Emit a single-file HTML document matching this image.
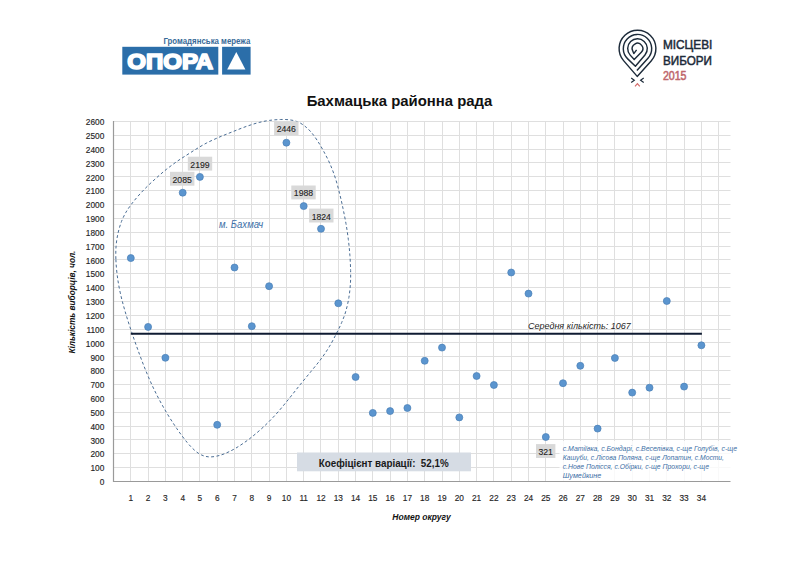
<!DOCTYPE html>
<html><head><meta charset="utf-8"><style>
html,body{margin:0;padding:0;background:#fff;}
svg{display:block;font-family:"Liberation Sans",sans-serif;}
.yl{font-size:8.3px;fill:#262626;text-anchor:end;stroke:#262626;stroke-width:0.15px;}
.xl{font-size:8.3px;fill:#262626;text-anchor:middle;stroke:#262626;stroke-width:0.15px;}
.dl{font-size:8.7px;fill:#1e1e1e;text-anchor:middle;stroke:#1e1e1e;stroke-width:0.12px;}
.town{font-size:10.2px;fill:#3d70a8;font-style:italic;}
.coef{font-size:10.4px;fill:#1a1a1a;font-weight:bold;white-space:pre;}
.note{font-size:7.5px;fill:#3d6fa6;font-style:italic;}
.mean{font-size:9px;fill:#262626;font-style:italic;}
.title{font-size:14.9px;fill:#111;font-weight:bold;text-anchor:middle;}
.xt{font-size:8.5px;fill:#111;font-weight:bold;font-style:italic;text-anchor:middle;}
.yt{font-size:8.5px;fill:#111;font-weight:bold;font-style:italic;}
.gm{font-size:8.5px;fill:#386a98;font-weight:bold;}
.opora{font-size:22.2px;fill:#fff;font-weight:bold;stroke:#fff;stroke-width:1.7px;stroke-linejoin:round;}
.mv{font-size:12.3px;fill:#1d2b3a;stroke:#1d2b3a;stroke-width:0.5px;}
.mv2{font-size:12px;fill:#c0676c;stroke:#c0676c;stroke-width:0.55px;}
</style></head>
<body><svg width="800" height="566" viewBox="0 0 800 566">
<path d="M113.5 467.5H730.5 M113.5 453.5H730.5 M113.5 439.5H730.5 M113.5 426.5H730.5 M113.5 412.5H730.5 M113.5 398.5H730.5 M113.5 384.5H730.5 M113.5 370.5H730.5 M113.5 356.5H730.5 M113.5 342.5H730.5 M113.5 329.5H730.5 M113.5 315.5H730.5 M113.5 301.5H730.5 M113.5 287.5H730.5 M113.5 273.5H730.5 M113.5 259.5H730.5 M113.5 246.5H730.5 M113.5 232.5H730.5 M113.5 218.5H730.5 M113.5 204.5H730.5 M113.5 190.5H730.5 M113.5 176.5H730.5 M113.5 162.5H730.5 M113.5 149.5H730.5 M113.5 135.5H730.5 M113.5 121.5H730.5 M130.5 121.4V481.4 M148.5 121.4V481.4 M165.5 121.4V481.4 M182.5 121.4V481.4 M199.5 121.4V481.4 M217.5 121.4V481.4 M234.5 121.4V481.4 M251.5 121.4V481.4 M269.5 121.4V481.4 M286.5 121.4V481.4 M303.5 121.4V481.4 M320.5 121.4V481.4 M338.5 121.4V481.4 M355.5 121.4V481.4 M372.5 121.4V481.4 M390.5 121.4V481.4 M407.5 121.4V481.4 M424.5 121.4V481.4 M442.5 121.4V481.4 M459.5 121.4V481.4 M476.5 121.4V481.4 M493.5 121.4V481.4 M511.5 121.4V481.4 M528.5 121.4V481.4 M545.5 121.4V481.4 M563.5 121.4V481.4 M580.5 121.4V481.4 M597.5 121.4V481.4 M614.5 121.4V481.4 M632.5 121.4V481.4 M649.5 121.4V481.4 M666.5 121.4V481.4 M684.5 121.4V481.4 M701.5 121.4V481.4 M718.5 121.4V481.4" stroke="#dfdfdf" stroke-width="1" fill="none"/>
<path d="M113.5 121V481.5H730.5" stroke="#9a9a9a" stroke-width="1.2" fill="none"/>
<text x="104.3" y="485.1" class="yl">0</text>
<text x="104.3" y="471.3" class="yl">100</text>
<text x="104.3" y="457.4" class="yl">200</text>
<text x="104.3" y="443.6" class="yl">300</text>
<text x="104.3" y="429.7" class="yl">400</text>
<text x="104.3" y="415.9" class="yl">500</text>
<text x="104.3" y="402.0" class="yl">600</text>
<text x="104.3" y="388.2" class="yl">700</text>
<text x="104.3" y="374.3" class="yl">800</text>
<text x="104.3" y="360.5" class="yl">900</text>
<text x="104.3" y="346.6" class="yl">1000</text>
<text x="104.3" y="332.8" class="yl">1100</text>
<text x="104.3" y="318.9" class="yl">1200</text>
<text x="104.3" y="305.1" class="yl">1300</text>
<text x="104.3" y="291.3" class="yl">1400</text>
<text x="104.3" y="277.4" class="yl">1500</text>
<text x="104.3" y="263.6" class="yl">1600</text>
<text x="104.3" y="249.7" class="yl">1700</text>
<text x="104.3" y="235.9" class="yl">1800</text>
<text x="104.3" y="222.0" class="yl">1900</text>
<text x="104.3" y="208.2" class="yl">2000</text>
<text x="104.3" y="194.3" class="yl">2100</text>
<text x="104.3" y="180.5" class="yl">2200</text>
<text x="104.3" y="166.6" class="yl">2300</text>
<text x="104.3" y="152.8" class="yl">2400</text>
<text x="104.3" y="138.9" class="yl">2500</text>
<text x="104.3" y="125.1" class="yl">2600</text>
<text x="130.8" y="500.8" class="xl">1</text>
<text x="148.1" y="500.8" class="xl">2</text>
<text x="165.4" y="500.8" class="xl">3</text>
<text x="182.7" y="500.8" class="xl">4</text>
<text x="199.9" y="500.8" class="xl">5</text>
<text x="217.2" y="500.8" class="xl">6</text>
<text x="234.5" y="500.8" class="xl">7</text>
<text x="251.8" y="500.8" class="xl">8</text>
<text x="269.1" y="500.8" class="xl">9</text>
<text x="286.4" y="500.8" class="xl">10</text>
<text x="303.7" y="500.8" class="xl">11</text>
<text x="321.0" y="500.8" class="xl">12</text>
<text x="338.3" y="500.8" class="xl">13</text>
<text x="355.6" y="500.8" class="xl">14</text>
<text x="372.8" y="500.8" class="xl">15</text>
<text x="390.1" y="500.8" class="xl">16</text>
<text x="407.4" y="500.8" class="xl">17</text>
<text x="424.7" y="500.8" class="xl">18</text>
<text x="442.0" y="500.8" class="xl">19</text>
<text x="459.3" y="500.8" class="xl">20</text>
<text x="476.6" y="500.8" class="xl">21</text>
<text x="493.9" y="500.8" class="xl">22</text>
<text x="511.2" y="500.8" class="xl">23</text>
<text x="528.5" y="500.8" class="xl">24</text>
<text x="545.8" y="500.8" class="xl">25</text>
<text x="563.0" y="500.8" class="xl">26</text>
<text x="580.3" y="500.8" class="xl">27</text>
<text x="597.6" y="500.8" class="xl">28</text>
<text x="614.9" y="500.8" class="xl">29</text>
<text x="632.2" y="500.8" class="xl">30</text>
<text x="649.5" y="500.8" class="xl">31</text>
<text x="666.8" y="500.8" class="xl">32</text>
<text x="684.1" y="500.8" class="xl">33</text>
<text x="701.4" y="500.8" class="xl">34</text>
<path d="M115.88 259.23 C115.7 254.3 115.8 249.8 116.12 245.43 C116.5 241.0 117.2 236.9 118.08 232.88 C119.0 228.9 120.2 225.0 121.45 221.57 C122.8 218.2 124.2 215.3 125.88 212.37 C127.6 209.5 129.4 206.9 131.55 204.05 C133.7 201.2 136.3 198.1 139.0 195.02 C141.7 192.0 144.8 188.8 147.82 185.85 C150.8 182.9 153.9 180.2 156.97 177.4 C160.1 174.6 163.2 171.9 166.5 169.27 C169.8 166.7 173.2 164.1 176.57 161.73 C179.9 159.4 183.2 157.3 186.5 155.22 C189.8 153.1 192.8 151.1 196.1 149.1 C199.4 147.1 202.8 145.0 206.2 143.22 C209.6 141.4 213.3 139.8 216.8 138.2 C220.3 136.6 223.9 135.3 227.4 133.83 C230.9 132.4 234.5 131.0 238.0 129.6 C241.5 128.2 245.1 126.8 248.6 125.65 C252.1 124.5 255.6 123.3 259.12 122.45 C262.6 121.6 266.1 120.8 269.73 120.35 C273.3 119.9 277.2 119.6 280.68 119.5 C284.2 119.4 287.7 119.5 290.62 119.97 C293.5 120.4 295.9 121.0 298.18 122.03 C300.5 123.0 302.4 124.3 304.52 125.9 C306.6 127.5 308.8 129.5 310.88 131.88 C313.0 134.3 315.1 137.2 317.23 140.43 C319.4 143.6 321.5 147.3 323.6 151.18 C325.7 155.1 328.0 159.3 329.98 163.9 C332.0 168.5 334.0 173.8 335.6 178.88 C337.2 183.9 338.5 189.2 339.73 194.12 C341.0 199.1 342.0 203.6 343.0 208.5 C344.0 213.4 345.1 218.4 345.98 223.62 C346.9 228.8 347.7 234.3 348.33 239.57 C349.0 244.9 349.5 250.3 349.9 255.5 C350.3 260.7 350.5 265.8 350.62 270.57 C350.7 275.3 350.7 279.6 350.38 284.1 C350.1 288.6 349.6 293.0 348.9 297.45 C348.2 301.9 347.1 306.6 345.95 310.75 C344.8 314.9 343.4 318.5 341.73 322.4 C340.1 326.3 338.2 330.0 336.15 334.07 C334.1 338.1 331.7 342.7 329.22 346.82 C326.7 351.0 324.0 355.0 321.0 359.03 C318.0 363.1 314.6 367.0 311.2 371.23 C307.8 375.4 304.1 379.8 300.48 384.3 C296.8 388.8 293.2 393.5 289.32 398.32 C285.4 403.1 281.4 408.2 277.1 413.0 C272.8 417.8 268.1 422.6 263.53 426.88 C258.9 431.2 254.0 435.3 249.38 438.87 C244.8 442.4 240.0 445.6 235.92 448.07 C231.8 450.5 228.0 452.3 224.6 453.68 C221.2 455.1 218.5 455.8 215.78 456.33 C213.1 456.9 210.7 457.0 208.38 456.82 C206.0 456.6 203.9 456.1 201.68 455.05 C199.5 454.1 197.6 452.9 195.2 450.82 C192.8 448.7 190.2 446.1 187.12 442.43 C184.1 438.7 180.4 433.8 176.88 428.7 C173.4 423.6 169.7 417.9 166.22 412.05 C162.8 406.2 159.3 400.0 156.18 393.7 C153.0 387.4 150.0 380.8 147.27 374.2 C144.5 367.6 142.1 361.3 139.53 354.4 C137.0 347.5 134.3 340.0 131.88 332.77 C129.4 325.5 126.9 317.7 124.95 310.88 C123.0 304.1 121.4 298.0 120.1 292.08 C118.8 286.1 117.9 280.6 117.2 275.12 C116.5 269.6 116.1 264.2 115.88 259.23Z" stroke="#4a6d94" stroke-width="1" stroke-dasharray="2.9 2.4" fill="none"/>
<path d="M130.8 333.8H701.9" stroke="#0f1b32" stroke-width="2.1"/>
<text x="528" y="329" class="mean">Середня кількість: 1067</text>
<circle cx="130.8" cy="258.1" r="3.5" fill="#5b95cf" stroke="#4a7fb6" stroke-width="0.7"/>
<circle cx="148.1" cy="326.9" r="3.5" fill="#5b95cf" stroke="#4a7fb6" stroke-width="0.7"/>
<circle cx="165.4" cy="357.8" r="3.5" fill="#5b95cf" stroke="#4a7fb6" stroke-width="0.7"/>
<circle cx="182.7" cy="192.7" r="3.5" fill="#5b95cf" stroke="#4a7fb6" stroke-width="0.7"/>
<circle cx="199.9" cy="176.9" r="3.5" fill="#5b95cf" stroke="#4a7fb6" stroke-width="0.7"/>
<circle cx="217.2" cy="424.8" r="3.5" fill="#5b95cf" stroke="#4a7fb6" stroke-width="0.7"/>
<circle cx="234.5" cy="267.5" r="3.5" fill="#5b95cf" stroke="#4a7fb6" stroke-width="0.7"/>
<circle cx="251.8" cy="326.2" r="3.5" fill="#5b95cf" stroke="#4a7fb6" stroke-width="0.7"/>
<circle cx="269.1" cy="286.2" r="3.5" fill="#5b95cf" stroke="#4a7fb6" stroke-width="0.7"/>
<circle cx="286.4" cy="142.7" r="3.5" fill="#5b95cf" stroke="#4a7fb6" stroke-width="0.7"/>
<circle cx="303.7" cy="206.1" r="3.5" fill="#5b95cf" stroke="#4a7fb6" stroke-width="0.7"/>
<circle cx="321.0" cy="228.8" r="3.5" fill="#5b95cf" stroke="#4a7fb6" stroke-width="0.7"/>
<circle cx="338.3" cy="303.3" r="3.5" fill="#5b95cf" stroke="#4a7fb6" stroke-width="0.7"/>
<circle cx="355.6" cy="377.0" r="3.5" fill="#5b95cf" stroke="#4a7fb6" stroke-width="0.7"/>
<circle cx="372.8" cy="412.9" r="3.5" fill="#5b95cf" stroke="#4a7fb6" stroke-width="0.7"/>
<circle cx="390.1" cy="411.1" r="3.5" fill="#5b95cf" stroke="#4a7fb6" stroke-width="0.7"/>
<circle cx="407.4" cy="408.0" r="3.5" fill="#5b95cf" stroke="#4a7fb6" stroke-width="0.7"/>
<circle cx="424.7" cy="360.8" r="3.5" fill="#5b95cf" stroke="#4a7fb6" stroke-width="0.7"/>
<circle cx="442.0" cy="347.6" r="3.5" fill="#5b95cf" stroke="#4a7fb6" stroke-width="0.7"/>
<circle cx="459.3" cy="417.4" r="3.5" fill="#5b95cf" stroke="#4a7fb6" stroke-width="0.7"/>
<circle cx="476.6" cy="376.0" r="3.5" fill="#5b95cf" stroke="#4a7fb6" stroke-width="0.7"/>
<circle cx="493.9" cy="385.0" r="3.5" fill="#5b95cf" stroke="#4a7fb6" stroke-width="0.7"/>
<circle cx="511.2" cy="272.5" r="3.5" fill="#5b95cf" stroke="#4a7fb6" stroke-width="0.7"/>
<circle cx="528.5" cy="293.6" r="3.5" fill="#5b95cf" stroke="#4a7fb6" stroke-width="0.7"/>
<circle cx="545.8" cy="437.0" r="3.5" fill="#5b95cf" stroke="#4a7fb6" stroke-width="0.7"/>
<circle cx="563.0" cy="383.2" r="3.5" fill="#5b95cf" stroke="#4a7fb6" stroke-width="0.7"/>
<circle cx="580.3" cy="365.8" r="3.5" fill="#5b95cf" stroke="#4a7fb6" stroke-width="0.7"/>
<circle cx="597.6" cy="428.6" r="3.5" fill="#5b95cf" stroke="#4a7fb6" stroke-width="0.7"/>
<circle cx="614.9" cy="358.0" r="3.5" fill="#5b95cf" stroke="#4a7fb6" stroke-width="0.7"/>
<circle cx="632.2" cy="392.6" r="3.5" fill="#5b95cf" stroke="#4a7fb6" stroke-width="0.7"/>
<circle cx="649.5" cy="387.7" r="3.5" fill="#5b95cf" stroke="#4a7fb6" stroke-width="0.7"/>
<circle cx="666.8" cy="301.0" r="3.5" fill="#5b95cf" stroke="#4a7fb6" stroke-width="0.7"/>
<circle cx="684.1" cy="386.6" r="3.5" fill="#5b95cf" stroke="#4a7fb6" stroke-width="0.7"/>
<circle cx="701.4" cy="345.3" r="3.5" fill="#5b95cf" stroke="#4a7fb6" stroke-width="0.7"/>
<rect x="170" y="171.8" width="24.4" height="13.9" fill="#d9d9d9"/>
<text x="182.2" y="182.7" class="dl">2085</text>
<rect x="187.8" y="156.7" width="24.4" height="13.9" fill="#d9d9d9"/>
<text x="200.0" y="167.6" class="dl">2199</text>
<rect x="274.1" y="121.4" width="24.4" height="13.9" fill="#d9d9d9"/>
<text x="286.3" y="132.3" class="dl">2446</text>
<rect x="291.3" y="185.5" width="24.4" height="13.9" fill="#d9d9d9"/>
<text x="303.5" y="196.4" class="dl">1988</text>
<rect x="309.1" y="208.6" width="24.4" height="13.9" fill="#d9d9d9"/>
<text x="321.3" y="219.5" class="dl">1824</text>
<rect x="536" y="444.1" width="19.4" height="13.9" fill="#d9d9d9"/>
<text x="545.7" y="455.0" class="dl">321</text>
<text x="219" y="227.5" class="town" textLength="44.3" lengthAdjust="spacingAndGlyphs">м. Бахмач</text>
<rect x="297" y="452.5" width="174" height="18.8" fill="#d6dce4"/>
<text x="318.7" y="467.2" class="coef" xml:space="preserve" textLength="130" lengthAdjust="spacingAndGlyphs">Коефіцієнт варіації:  52,1%</text>
<rect x="559.5" y="441" width="172" height="40" fill="#fff" fill-opacity="0.82"/>
<text x="562.7" y="451.3" class="note" textLength="174.3" lengthAdjust="spacingAndGlyphs">с.Матіївка, с.Бондарі, с.Веселівка, с-ще Голубів, с-ще</text>
<text x="562.7" y="460.3" class="note" textLength="161.3" lengthAdjust="spacingAndGlyphs">Кашуби, с.Лісова Поляна, с-ще Лопатин, с.Мости,</text>
<text x="562.7" y="469.3" class="note" textLength="146.3" lengthAdjust="spacingAndGlyphs">с.Нове Полісся, с.Обірки, с-ще Прохори, с-ще</text>
<text x="562.7" y="478.3" class="note" textLength="38.6" lengthAdjust="spacingAndGlyphs">Шумейкине</text>
<text x="399.5" y="106" class="title">Бахмацька районна рада</text>
<text x="421.5" y="519.5" class="xt">Номер округу</text>
<text transform="translate(75.3 353.6) rotate(-90)" x="0" y="0" class="yt" textLength="103" lengthAdjust="spacingAndGlyphs">Кількість виборців, чол.</text>
<text x="163.4" y="44" class="gm" textLength="87" lengthAdjust="spacingAndGlyphs">Громадянська мережа</text>
<rect x="122.3" y="46.8" width="96" height="27.8" fill="#2b6ea9"/>
<rect x="222.1" y="46.8" width="28.5" height="27.8" fill="#2b6ea9"/>
<text x="127.2" y="68.8" class="opora" textLength="86" lengthAdjust="spacingAndGlyphs">ОПОРА</text>
<path d="M236.3 51.9L245.4 69.4H227.2Z" fill="#fff"/>
<text x="663" y="49.2" class="mv" textLength="49.3" lengthAdjust="spacingAndGlyphs">МІСЦЕВІ</text>
<text x="663.1" y="64.5" class="mv" textLength="48.9" lengthAdjust="spacingAndGlyphs">ВИБОРИ</text>
<text x="662.9" y="79.6" class="mv2" textLength="23.6" lengthAdjust="spacingAndGlyphs">2015</text>
<path d="M637.20 76.40L651.16 60.93A18.4 18.4 0 1 0 623.58 60.63Z" stroke="#1d2b3a" stroke-width="1.45" fill="none" stroke-linejoin="round"/>
<path d="M636.90 70.40L647.97 58.19A14.2 14.2 0 1 0 627.71 58.89L635.40 66.20L644.97 54.95A9.8 9.8 0 1 0 630.20 55.14L634.20 59.60L641.30 52.29A5.3 5.3 0 1 0 632.58 50.58L633.80 53.60L636.6 49.9" stroke="#1d2b3a" stroke-width="1.45" fill="none" stroke-linejoin="round"/>
<path d="M631.2 78L634.3 80.3L631.2 82.6M643.7 78L640.6 80.3L643.7 82.6" stroke="#1d2b3a" stroke-width="1.2" fill="none"/>
<path d="M635 86.3L637.4 83.6L639.8 86.3" stroke="#d46a6a" stroke-width="1.2" fill="none"/>
</svg></body></html>
